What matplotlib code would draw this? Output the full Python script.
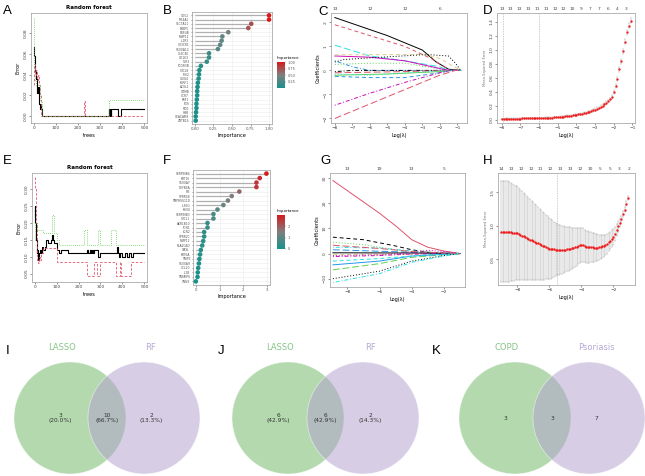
import numpy as np
import matplotlib.pyplot as plt
from matplotlib.colors import LinearSegmentedColormap, Normalize
from matplotlib.cm import ScalarMappable
from matplotlib.patches import Circle

W, H = 645, 476

# ---------------- data ----------------
# A: random forest error vs number of trees (step levels)
A_oob_t = [1, 3, 5, 7, 9, 11, 13, 16, 19, 22, 25, 28, 31, 34, 37, 339, 342, 345, 348, 351, 380, 393, 500]
A_oob_e = [0.067, 0.058, 0.050, 0.044, 0.040, 0.036, 0.030, 0.022, 0.028, 0.018, 0.012, 0.007, 0.012, 0.007, 0.0,
           0.0074, 0.0, 0.0074, 0.0, 0.0074, 0.0, 0.0074, 0.0074]
A_c1_t = [1, 3, 5, 10, 15, 20, 25, 30, 35, 228, 232, 500]
A_c1_e = [0.030, 0.050, 0.040, 0.045, 0.035, 0.040, 0.030, 0.020, 0.0, 0.015, 0.0, 0.0]
A_c2_t = [1, 2, 3, 5, 10, 20, 30, 37, 339, 500]
A_c2_e = [0.0945, 0.070, 0.050, 0.035, 0.030, 0.030, 0.015, 0.0, 0.016, 0.016]

# E: random forest error vs number of trees
E_oob_t = [1, 2, 3, 5, 7, 9, 11, 13, 15, 17, 19, 22, 25, 30, 35, 40, 45, 50, 60, 75, 80, 85, 90, 100, 110, 120,
           150, 240, 245, 250, 255, 260, 265, 270, 290, 300, 375, 380, 385, 390, 400, 410, 420, 430, 440, 450, 500]
E_oob_e = [0.22, 0.25, 0.20, 0.18, 0.15, 0.13, 0.11, 0.12, 0.10, 0.09, 0.10, 0.11, 0.12, 0.11, 0.13, 0.12, 0.13,
           0.15, 0.14, 0.15, 0.165, 0.15, 0.14, 0.12, 0.11, 0.12, 0.11, 0.12, 0.11, 0.12, 0.11, 0.12, 0.11, 0.12,
           0.10, 0.11, 0.13, 0.11, 0.10, 0.11, 0.10, 0.11, 0.10, 0.11, 0.10, 0.11, 0.11]
E_c1_t = [1, 3, 5, 7, 9, 11, 13, 15, 20, 25, 30, 40, 100, 240, 270, 285, 300, 370, 390, 395, 440, 500]
E_c1_e = [0.335, 0.30, 0.25, 0.20, 0.15, 0.12, 0.09, 0.08, 0.10, 0.09, 0.11, 0.125, 0.083, 0.042, 0.083, 0.042,
          0.083, 0.042, 0.083, 0.042, 0.083, 0.083]
E_c2_t = [1, 3, 10, 40, 80, 90, 100, 110, 225, 240, 287, 300, 347, 370, 500]
E_c2_e = [0.15, 0.20, 0.18, 0.17, 0.225, 0.17, 0.15, 0.135, 0.18, 0.135, 0.18, 0.135, 0.18, 0.135, 0.135]

# B / F: random forest variable importance
B_genes = ["CD52", "MS4A1", "SLC7A11", "FKBP5", "PDE4B", "MMP12", "IL1R2", "CX3CR1", "S100A12", "CLEC4E",
           "CD163", "TLR2", "FCGR3B", "CXCL8", "IRS2", "VSIG4", "KLRF1", "ACSL1", "GZMB", "CCR7", "PRF1",
           "FOS", "PID1", "HBB", "CEACAM8", "ZBTB16"]
B_imp = [1.00, 1.00, 0.76, 0.72, 0.45, 0.37, 0.36, 0.34, 0.31, 0.19, 0.19, 0.16, 0.08, 0.06, 0.055, 0.05,
         0.04, 0.035, 0.03, 0.03, 0.025, 0.02, 0.02, 0.015, 0.01, 0.01]
F_genes = ["SERPINB4", "KRT16", "S100A7", "DEFB4A", "PI3", "SPRR1B", "TMPRSS11D", "IL36G", "KYNU", "SERPINB3",
           "CXCL1", "AKR1B10", "TCN1", "LCN2", "SPRR2C", "MMP12", "PLA2G4D", "OASL", "KRT6A", "TNIP3",
           "S100A9", "CCL20", "IL1B", "TNFAIP6", "VNN3"]
F_imp = [2.97, 2.69, 2.55, 2.55, 1.83, 1.51, 1.35, 1.16, 0.91, 0.74, 0.74, 0.49, 0.49, 0.35, 0.35, 0.31,
         0.27, 0.21, 0.18, 0.15, 0.13, 0.10, 0.08, 0.07, 0.0]

# C / G: LASSO coefficient paths, (log lambda points, coefficient points, colour)
C_paths = [
    ([-8, -5, -3, -2.2, -1.5, -0.8], [2.2, 1.45, 0.85, 0.35, 0.05, 0], "k"),
    ([-8, -6, -4, -2.5, -1.4, -0.8], [1.9, 1.45, 1.0, 0.5, 0.0, 0], "r"),
    ([-8, -6, -4, -1.5, -0.8], [0.25, 0.3, 0.3, 0.0, 0], "g"),
    ([-8, -7, -6, -4, -0.8], [0.4, 0.15, 0.0, 0.0, 0], "b"),
    ([-8, -6, -4, -2, -1.5, -0.8], [1.05, 0.6, 0.4, 0.15, 0, 0], "c"),
    ([-8, -6, -4, -1.5, -0.8], [0.6, 0.55, 0.4, 0.0, 0], "m"),
    ([-8, -3, -2, -0.8], [0.65, 0.66, 0.5, 0], "y"),
    ([-8, -7.5, -6.5, -3, -2.5, -1.5, -1.1, -0.8], [0.35, 0.45, 0.5, 0.65, 0.65, 0.6, 0.3, 0], "k"),
    ([-8, -7, -5, -2, -0.8], [-0.05, 0.0, 0.0, 0.0, 0], "k"),
    ([-8, -4, -1.5, -0.8], [-0.1, -0.05, 0, 0], "r"),
    ([-8, -5, -2, -1.2, -0.8], [-0.2, -0.15, -0.05, 0, 0], "g"),
    ([-8, -6, -4, -2, -1.3, -0.8], [-0.25, -0.3, -0.3, -0.1, 0, 0], "b"),
    ([-8, -6, -1.5, -0.8], [-0.15, -0.2, 0, 0], "c"),
    ([-8, -6, -4, -2, -1.4, -0.8], [-1.45, -0.95, -0.5, -0.1, 0, 0], "m"),
    ([-8, -6, -4, -2, -1.1, -0.8], [-2.0, -1.4, -0.8, -0.2, 0, 0], "r"),
]
C_top_pos = [-8, -6, -4, -2]
C_top_lab = ["13", "12", "12", "6"]

G_paths = [
    ([-8.9, -7, -6, -5, -4, -3, -2, -1], [29, 20.5, 16, 11, 5.5, 2.5, 1, 0], "r"),
    ([-8.9, -7, -5, -4, -3, -1], [6.5, 5.5, 3, 1.5, 0.5, 0], "k"),
    ([-8.9, -7, -4, -1], [4.5, 3.5, 0.5, 0], "g"),
    ([-8.9, -6, -4, -2.5, -1], [2.5, 2.2, 1.0, 0.3, 0], "c"),
    ([-8.9, -4, -1], [1.5, 0.5, 0], "b"),
    ([-8.9, -4, -1], [0.3, 0.2, 0], "k"),
    ([-8.9, -1], [0.0, 0], "y"),
    ([-8.9, -6, -4, -3, -2, -1], [-0.8, -0.5, 0.3, 1.3, 0.8, 0], "m"),
    ([-8.9, -6, -4, -1], [-1.2, -0.8, -0.2, 0], "m"),
    ([-8.9, -6, -4, -2, -1], [-6.5, -4, -1.5, -0.5, 0], "g"),
    ([-8.9, -6, -4, -1], [-4.5, -3, -1, 0], "b"),
    ([-8.9, -6, -3, -1], [-3, -2, -0.5, 0], "c"),
    ([-8.9, -6, -4, -2, -1], [-10, -7, -3, -0.8, 0], "k"),
    ([-8.9, -6, -4, -2, -1], [-11.5, -8, -3.5, -1, 0], "c"),
    ([-8.9, -6, -4, -1], [3.3, 2, 0.8, 0], "r"),
]
G_top_pos = [-8, -6, -4, -2]
G_top_lab = ["13", "19", "13", "5"]

# D: cross-validated error (log lambda grid, mean, se)
D_loglam = np.round(np.arange(-8.0, -1.05, 0.1), 2)
D_mse = [0.010, 0.010, 0.011, 0.011, 0.011, 0.012, 0.012, 0.013, 0.013, 0.014,
         0.014, 0.015, 0.015, 0.016, 0.016, 0.017, 0.018, 0.018, 0.019, 0.020,
         0.021, 0.022, 0.023, 0.024, 0.025, 0.026, 0.028, 0.029, 0.031, 0.033,
         0.035, 0.037, 0.040, 0.042, 0.045, 0.048, 0.051, 0.055, 0.059, 0.063,
         0.068, 0.073, 0.078, 0.084, 0.090, 0.097, 0.105, 0.113, 0.122, 0.132,
         0.143, 0.155, 0.168, 0.183, 0.199, 0.217, 0.237, 0.260, 0.290, 0.320,
         0.400, 0.480, 0.580, 0.720, 0.840, 0.980, 1.120, 1.250, 1.350, 1.420]
D_se = [0.004, 0.004, 0.004, 0.004, 0.004, 0.004, 0.004, 0.004, 0.004, 0.004,
        0.005, 0.005, 0.005, 0.005, 0.005, 0.005, 0.005, 0.005, 0.005, 0.005,
        0.006, 0.006, 0.006, 0.006, 0.006, 0.007, 0.007, 0.007, 0.007, 0.008,
        0.008, 0.008, 0.009, 0.009, 0.009, 0.010, 0.010, 0.011, 0.011, 0.012,
        0.012, 0.013, 0.013, 0.014, 0.014, 0.015, 0.015, 0.016, 0.016, 0.017,
        0.018, 0.018, 0.019, 0.020, 0.021, 0.022, 0.023, 0.024, 0.025, 0.026,
        0.028, 0.030, 0.032, 0.034, 0.036, 0.038, 0.040, 0.040, 0.040, 0.040]
D_top_pos = [-8.0, -7.53, -7.05, -6.58, -6.1, -5.63, -5.15, -4.68, -4.2, -3.73, -3.25, -2.78, -2.3, -1.83, -1.35]
D_top_lab = ["13", "13", "13", "13", "11", "11", "12", "12", "10", "9", "7", "7", "6", "4", "3"]
D_vlines = [-7.95, -6.0]

# H: cross-validated error (log lambda grid, mean, se)
H_loglam = np.round(np.arange(-9.0, -1.05, 0.1), 2)
H_mse = [0.915, 0.915, 0.915, 0.915, 0.913, 0.910, 0.905, 0.900, 0.895, 0.892,
         0.890, 0.878, 0.866, 0.854, 0.842, 0.830, 0.818, 0.806, 0.794, 0.782,
         0.770, 0.759, 0.748, 0.737, 0.726, 0.715, 0.704, 0.693, 0.682, 0.671,
         0.660, 0.656, 0.652, 0.648, 0.644, 0.640, 0.640, 0.641, 0.642, 0.643,
         0.645, 0.649, 0.654, 0.659, 0.664, 0.670, 0.679, 0.688, 0.697, 0.706,
         0.715, 0.712, 0.700, 0.690, 0.684, 0.680, 0.678, 0.676, 0.675, 0.675,
         0.675, 0.680, 0.686, 0.693, 0.700, 0.710, 0.730, 0.755, 0.780, 0.805,
         0.830, 0.880, 0.935, 0.990, 1.045, 1.100, 1.170, 1.240, 1.330, 1.420]
H_se = [0.755, 0.755, 0.755, 0.755, 0.755, 0.745, 0.735, 0.725, 0.715, 0.707,
        0.700, 0.688, 0.676, 0.664, 0.652, 0.640, 0.628, 0.616, 0.604, 0.592,
        0.580, 0.568, 0.556, 0.544, 0.532, 0.520, 0.508, 0.496, 0.484, 0.472,
        0.460, 0.444, 0.428, 0.412, 0.396, 0.380, 0.372, 0.364, 0.356, 0.348,
        0.340, 0.332, 0.324, 0.316, 0.308, 0.300, 0.291, 0.282, 0.273, 0.264,
        0.255, 0.250, 0.245, 0.240, 0.235, 0.230, 0.224, 0.218, 0.212, 0.206,
        0.200, 0.190, 0.180, 0.170, 0.160, 0.150, 0.144, 0.138, 0.132, 0.126,
        0.120, 0.106, 0.092, 0.078, 0.064, 0.050, 0.045, 0.040, 0.035, 0.030]
H_top_pos = [-9.0, -8.38, -7.77, -7.15, -6.54, -5.92, -5.31, -4.69, -4.08, -3.46, -2.85, -2.23, -1.62, -1.0]
H_top_lab = ["14", "13", "12", "12", "11", "12", "13", "13", "12", "10", "5", "5", "3", "2"]
H_vlines = [-5.53]

# I / J / K: Venn counts (left only, shared, right only)
I_sets, I_counts = ("LASSO", "RF"), (3, 10, 2)
J_sets, J_counts = ("LASSO", "RF"), (6, 6, 2)
K_sets, K_counts = ("COPD", "Psoriasis"), (3, 3, 7)

# ---------------- styling ----------------
R_COLS = {"k": "#000000", "r": "#DF536B", "g": "#61D04F", "b": "#2297E6", "c": "#28E2E5",
          "m": "#CD0BBC", "y": "#d9cf8a", "gr": "#9E9E9E"}
R_LTY = ["-", (0, (4, 3)), (0, (1, 2)), (0, (1, 2, 4, 2)), (0, (7, 3))]
TICK = 3.2
LAB = 3.6

fig = plt.figure(figsize=(W / 100, H / 100), dpi=100)


def px_axes(x0, y0, x1, y1):
    return fig.add_axes([x0 / W, 1 - y1 / H, (x1 - x0) / W, (y1 - y0) / H])


def r_style(ax, rot_y=True):
    for s in ax.spines.values():
        s.set_color("#9a9a9a")
        s.set_linewidth(0.5)
    ax.tick_params(labelsize=TICK, length=1.5, width=0.4, pad=1, colors="#444444")
    if rot_y:
        for t in ax.get_yticklabels():
            t.set_rotation(90)
            t.set_va("center")


def top_counts(ax, pos, labs):
    sec = ax.secondary_xaxis("top")
    sec.set_xticks(pos)
    sec.set_xticklabels(labs)
    sec.tick_params(labelsize=TICK, length=0, pad=1.5, colors="#444444")
    sec.spines["top"].set_visible(False)


def rf_panel(ax, oob, c1, c2, ylim, yticks):
    ax.step(*oob, where="post", color="black", lw=0.8)
    ax.step(*c1, where="post", color="#DF536B", lw=0.6, ls=(0, (3, 2)))
    ax.step(*c2, where="post", color="#61D04F", lw=0.6, ls=(0, (1, 1.5)))
    ax.set_xlim(-12, 512)
    ax.set_xticks([0, 100, 200, 300, 400, 500])
    ax.set_ylim(*ylim)
    ax.set_yticks(yticks)
    ax.set_yticklabels([f"{v:.2f}" for v in yticks])
    ax.set_xlabel("trees", fontsize=LAB, labelpad=2)
    ax.set_ylabel("Error", fontsize=LAB, labelpad=2)
    ax.set_title("Random forest", fontsize=4, fontweight="bold", pad=3)
    r_style(ax)


# ---------------- A ----------------
axA = px_axes(31, 13, 147, 123)
rf_panel(axA, (A_oob_t, A_oob_e), (A_c1_t, A_c1_e), (A_c2_t, A_c2_e),
         (-0.0065, 0.0994), [0.0, 0.02, 0.04, 0.06, 0.08])

# ---------------- E ----------------
axE = px_axes(32, 173, 147, 282)
rf_panel(axE, (E_oob_t, E_oob_e), (E_c1_t, E_c1_e), (E_c2_t, E_c2_e),
         (0.025, 0.348), [0.05, 0.10, 0.15, 0.20, 0.25, 0.30])

# ---------------- B / F ----------------
imp_cmap = LinearSegmentedColormap.from_list("imp", ["#17928a", "#7f7f7f", "#d7191c"])


def lollipop(ax, cax, genes, imp, xticks, xlim, cticks):
    n = len(genes)
    ypos = np.arange(n)[::-1]
    norm = Normalize(min(imp), max(imp))
    ax.hlines(ypos, 0, imp, color="#b0b0b0", lw=0.9, zorder=1)
    ax.scatter(imp, ypos, c=imp, cmap=imp_cmap, norm=norm, s=11, zorder=3, linewidths=0)
    ax.set_yticks(ypos)
    ax.set_yticklabels(genes)
    ax.set_ylim(-0.8, n - 0.2)
    ax.set_xlim(*xlim)
    ax.set_xticks(xticks)
    ax.grid(True, color="#ececec", lw=0.4)
    ax.set_axisbelow(True)
    ax.set_xlabel("Importance", fontsize=LAB, labelpad=1.5)
    for s in ax.spines.values():
        s.set_color("#9a9a9a")
        s.set_linewidth(0.5)
    ax.tick_params(axis="x", labelsize=2.8, length=1.2, width=0.4, pad=1, colors="#555555")
    ax.tick_params(axis="y", labelsize=2.2, length=1.0, width=0.4, pad=1, colors="#555555")
    cb = fig.colorbar(ScalarMappable(norm=norm, cmap=imp_cmap), cax=cax)
    cb.set_ticks(cticks)
    cb.ax.tick_params(labelsize=2.5, length=1, width=0.3, pad=1, colors="#555555")
    cb.outline.set_visible(False)
    cax.set_title("Importance", fontsize=2.8, pad=2, loc="left")


axB = px_axes(192, 12, 272, 124)
caxB = px_axes(277, 62, 285, 88)
lollipop(axB, caxB, B_genes, B_imp, [0, 0.25, 0.5, 0.75, 1.0], (-0.04, 1.04), [0.25, 0.5, 0.75, 1.0])
axB.set_xticklabels(["0.00", "0.25", "0.50", "0.75", "1.00"])

axF = px_axes(193, 170, 270, 285)
caxF = px_axes(277, 215, 285, 249)
lollipop(axF, caxF, F_genes, F_imp, [0, 1, 2, 3], (-0.12, 3.12), [0, 1, 2])

# ---------------- C / G ----------------
def coef_panel(ax, paths, xlim, ylim, xticks, yticks, top_pos, top_lab):
    for i, (xs, ys, col) in enumerate(paths):
        ax.plot(xs, ys, color=R_COLS[col], ls=R_LTY[i % len(R_LTY)], lw=0.7)
    ax.set_xlim(*xlim)
    ax.set_ylim(*ylim)
    ax.set_xticks(xticks)
    ax.set_yticks(yticks)
    ax.set_xlabel("Log(λ)", fontsize=LAB, labelpad=2)
    ax.set_ylabel("Coefficients", fontsize=LAB, labelpad=2)
    r_style(ax)
    top_counts(ax, top_pos, top_lab)


axC = px_axes(331, 13, 467, 123)
coef_panel(axC, C_paths, (-8.22, -0.44), (-2.19, 2.39), range(-8, 0), [-2, -1, 0, 1, 2], C_top_pos, C_top_lab)

axG = px_axes(330, 173, 465, 287)
coef_panel(axG, G_paths, (-9.08, -0.69), (-13.3, 32), [-8, -6, -4, -2], [-10, 0, 10, 20, 30],
           G_top_pos, G_top_lab)

# ---------------- D / H ----------------
def cv_panel(ax, x, mse, se, xlim, ylim, xticks, yticks, top_pos, top_lab, vlines, ebar_lw):
    ax.errorbar(x, mse, yerr=se, fmt="none", ecolor="#a8a8a8", elinewidth=ebar_lw, capsize=0.8,
                capthick=ebar_lw, zorder=1)
    ax.plot(x, mse, "o", color="#ee1c1c", ms=1.7, mec="none", zorder=3)
    for v in vlines:
        ax.axvline(v, color="#9a9a9a", lw=0.4, ls=(0, (1.5, 1.5)), zorder=2)
    ax.set_xlim(*xlim)
    ax.set_ylim(*ylim)
    ax.set_xticks(xticks)
    ax.set_yticks(yticks)
    ax.set_xlabel("Log(λ)", fontsize=LAB, labelpad=2)
    ax.set_ylabel("Mean-Squared Error", fontsize=2.6, labelpad=2, color="#777777")
    r_style(ax)
    top_counts(ax, top_pos, top_lab)


axD = px_axes(497, 13, 635, 123)
cv_panel(axD, D_loglam, D_mse, D_se, (-8.26, -0.86), (-0.05, 1.53), range(-8, 0),
         [0.0, 0.2, 0.4, 0.6, 0.8, 1.0, 1.2, 1.4], D_top_pos, D_top_lab, D_vlines, 0.3)
axD.set_yticklabels(["0.0", "0.2", "0.4", "0.6", "0.8", "1.0", "1.2", "1.4"], rotation=90, va="center")

axH = px_axes(498, 173, 635, 285)
cv_panel(axH, H_loglam, H_mse, H_se, (-9.2, -0.65), (0.115, 1.79), [-8, -6, -4, -2], [0.5, 1.0, 1.5],
         H_top_pos, H_top_lab, H_vlines, 0.35)

# ---------------- Venn diagrams ----------------
GREEN = "#6bb561"
PURPLE = "#b19fcd"


def venn(x0, x1, sets, counts, cl, cr, pct):
    ax = px_axes(x0, 330, x1, 476)
    ax.set_xlim(x0, x1)
    ax.set_ylim(476, 330)
    ax.axis("off")
    r = 56
    cy = 418
    for cx, col in ((cl, GREEN), (cr, PURPLE)):
        ax.add_patch(Circle((cx, cy), r, facecolor=col, alpha=0.5, edgecolor="white", lw=0.6))
    ax.text(cl - 8, 347, sets[0], color="#86c486", fontsize=6, ha="center", va="center")
    ax.text(cr + 7, 347, sets[1], color="#b8a8d8", fontsize=6, ha="center", va="center")
    total = sum(counts)
    xs = (cl - 10, (cl + cr) / 2, cr + 7)
    for x, c in zip(xs, counts):
        s = f"{c}\n({100 * c / total:.1f}%)" if pct else f"{c}"
        ax.text(x, cy, s, fontsize=4.2, ha="center", va="center", color="#333333", linespacing=1.1)


venn(0, 215, I_sets, I_counts, 70, 144, True)
venn(215, 430, J_sets, J_counts, 288, 363, True)
venn(430, 645, K_sets, K_counts, 515, 589, False)

# ---------------- panel letters ----------------
for lab, x, y in [("A", 3, 11), ("B", 163, 11), ("C", 318, 12), ("D", 483, 11),
                  ("E", 3, 161), ("F", 163, 161), ("G", 320, 161), ("H", 483, 161),
                  ("I", 6, 351), ("J", 218, 351), ("K", 432, 351)]:
    fig.text(x / W, 1 - y / H, lab, fontsize=9.5, ha="left", va="center", family="Liberation Sans")

fig.savefig("out.png", dpi=100)
